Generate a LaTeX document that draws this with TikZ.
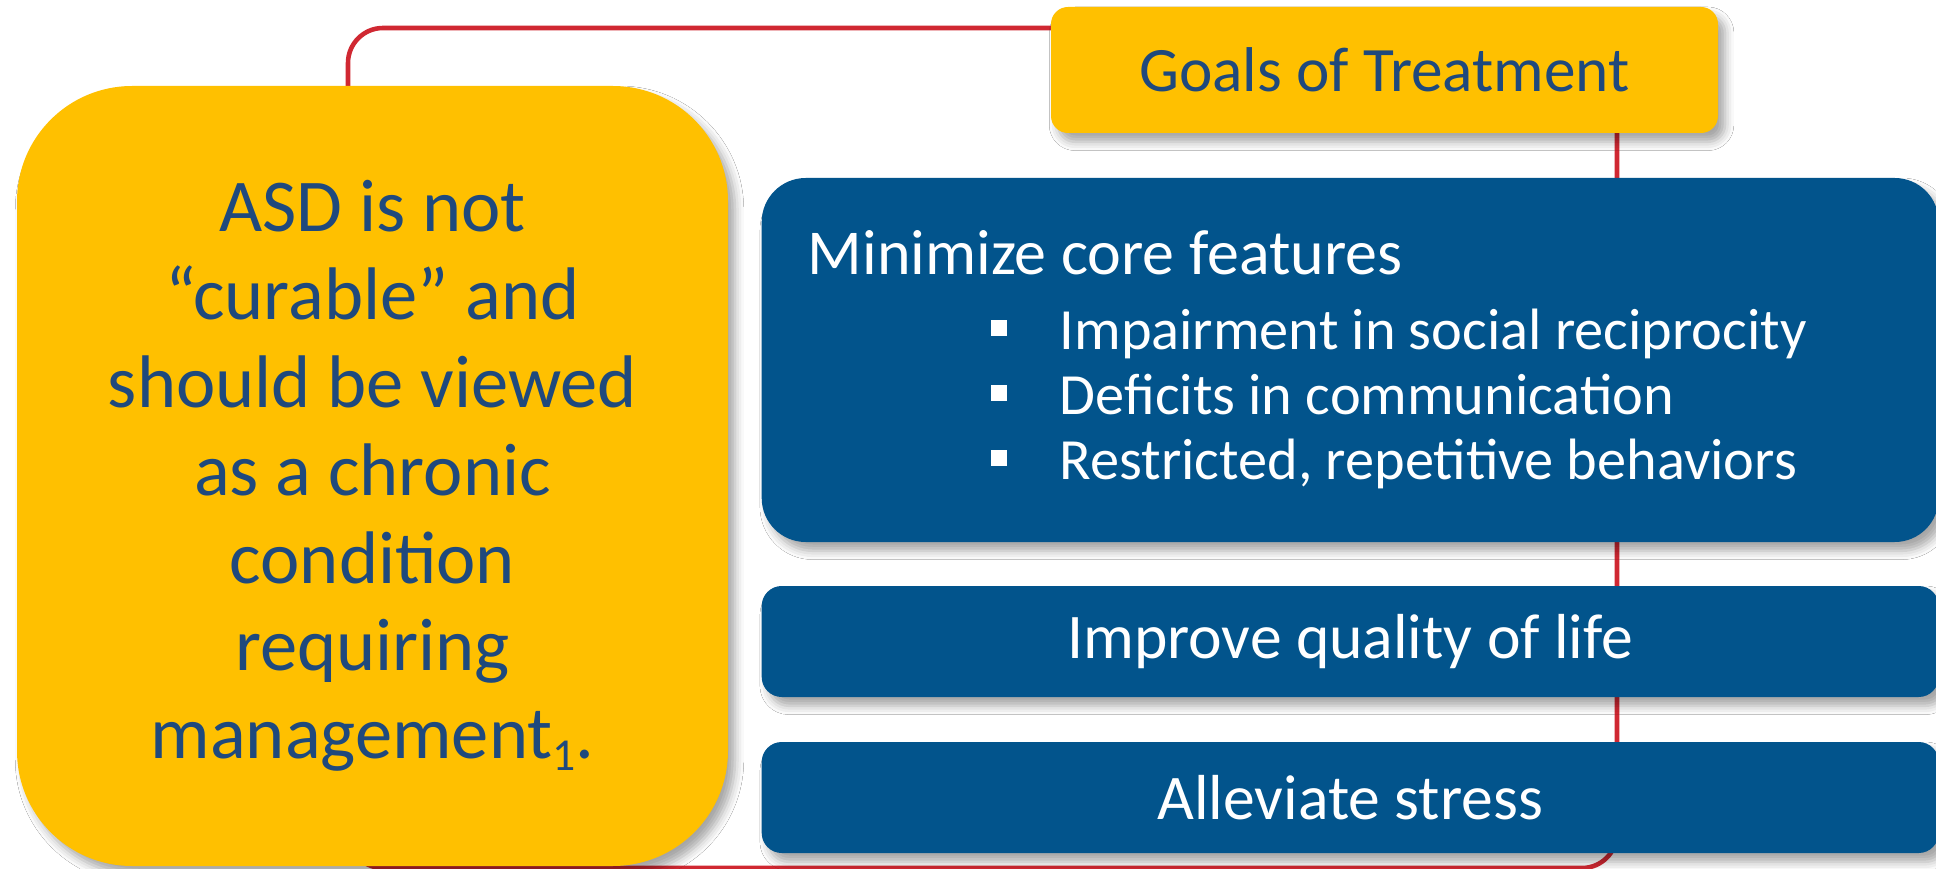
\documentclass[tikz,border=0pt]{standalone}
\usepackage{fontspec}
\setmainfont{Carlito}
\usetikzlibrary{shadows.blur}

\definecolor{goldfill}{RGB}{255,192,0}
\definecolor{navyfill}{RGB}{2,84,140}
\definecolor{navytext}{RGB}{31,73,125}
\definecolor{loopred}{RGB}{208,40,50}

% square bullet with its indent
\newcommand{\sqitem}{\hspace*{1.83cm}\makebox[0.69cm][l]{\rule[0.14cm]{0.16cm}{0.16cm}}}

\begin{document}
\begin{tikzpicture}[
    goldbox/.style={fill=goldfill, text=navytext, inner sep=0pt,
      blur shadow={shadow xshift=2pt, shadow yshift=-2.5pt, shadow blur radius=2.5pt, shadow opacity=35}},
    navybox/.style={fill=navyfill, text=white, inner sep=0pt, rounded corners=0.2cm,
      minimum width=11.77cm, minimum height=1.11cm, anchor=west,
      font=\fontsize{18.1}{21}\selectfont,
      blur shadow={shadow xshift=2pt, shadow yshift=-2.5pt, shadow blur radius=2.5pt, shadow opacity=35}},
    loopline/.style={draw=loopred, line width=1.3pt, rounded corners=0.35cm}]

    % Fix the page
    \fill[white] (0,0) rectangle (19.36,-8.69);
    \useasboundingbox (0,0) rectangle (19.36,-8.69);

    % Define the corners of the loop
    \coordinate (loopNW) at (3.48,-0.28);
    \coordinate (loopSE) at (16.17,-8.68);

    % Draw the loop behind the boxes
    \draw[loopline] (loopNW) rectangle (loopSE);

    % Draw the left box
    \node[goldbox, rounded corners=1.15cm, minimum width=7.11cm, minimum height=7.80cm,
      align=center, font=\fontsize{21.2}{25}\selectfont] (asd) at (3.725,-4.76)
      {ASD is not\\“curable” and\\should be viewed\\as a chronic\\condition\\requiring\\management{\fontsize{13}{13}\selectfont\raisebox{-0.25em}{1}}.};

    % Draw the title box
    \node[goldbox, rounded corners=0.17cm, minimum width=6.67cm, minimum height=1.26cm,
      font=\fontsize{18}{21}\selectfont] (goals) at (13.845,-0.70) {Goals of Treatment};

    % Draw the goal boxes
    \node[navybox, rounded corners=0.44cm, minimum height=3.64cm, align=flush left,
      text width=10.85cm, inner xsep=0.46cm, font=\fontsize{18.2}{18.5}\selectfont] (core) at (7.61,-3.60)
      {Minimize core features\\[2.8pt]
       \fontsize{16.6}{18.5}\selectfont
       \sqitem Impairment in social reciprocity\\
       \sqitem Deficits in communication\\
       \sqitem Restricted, repetitive behaviors};
    \node[navybox] (life) at (7.61,-6.415) {Improve quality of life};
    \node[navybox] (stress) at (7.61,-7.975) {Alleviate stress};
  \end{tikzpicture}
\end{document}
